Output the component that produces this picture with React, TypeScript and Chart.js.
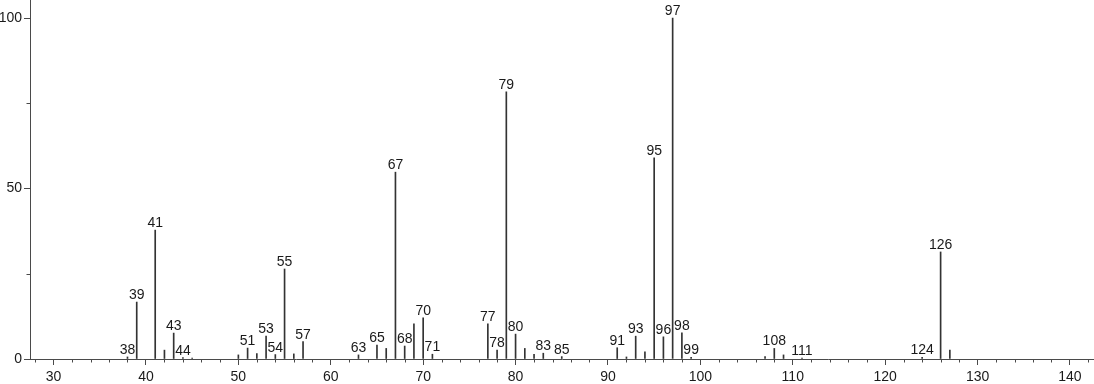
import React, { useEffect, useRef } from "react";
import { Chart, registerables } from "chart.js";

Chart.register(...registerables);

const masses = [38, 39, 41, 42, 43, 44, 45, 50, 51, 52, 53, 54, 55, 56, 57, 63, 65, 66, 67, 68, 69, 70, 71, 77, 78, 79, 80, 81, 82, 83, 85, 91, 92, 93, 94, 95, 96, 97, 98, 99, 107, 108, 109, 111, 124, 126, 127];
const intensities = [0.6, 16.7, 37.8, 2.6, 7.6, 0.4, 0.3, 1.2, 3.2, 1.6, 6.7, 1.3, 26.4, 1.5, 5.1, 1.2, 4.1, 3.1, 54.8, 3.8, 10.3, 12.1, 1.4, 10.3, 2.6, 78.4, 7.3, 3.1, 1.4, 1.7, 0.7, 3.3, 0.6, 6.7, 2.1, 59.0, 6.5, 100, 7.7, 0.5, 0.7, 3.1, 1.2, 0.3, 0.5, 31.4, 2.6];
const labeledMasses = [38, 39, 41, 43, 44, 51, 53, 54, 55, 57, 63, 65, 67, 68, 70, 71, 77, 78, 79, 80, 83, 85, 91, 93, 95, 96, 97, 98, 99, 108, 111, 124, 126];
const xTickLabels = [30, 40, 50, 60, 70, 80, 90, 100, 110, 120, 130, 140];
const yTickLabels = [0, 50, 100];

const FONT = "'Liberation Sans', Arial, Helvetica, sans-serif";
const FONT_SIZE = 14;
const AXIS = "#4a4a4a";
const TEXT = "#1a1a1a";

const peakLabelPlugin = {
  id: "peakLabels",
  afterDatasetsDraw(chart: any) {
    const meta = chart.getDatasetMeta(0);
    const ctx = chart.ctx;
    ctx.save();
    ctx.font = `${FONT_SIZE}px ${FONT}`;
    ctx.fillStyle = TEXT;
    ctx.textAlign = "center";
    ctx.textBaseline = "alphabetic";
    meta.data.forEach((el: any, i: number) => {
      if (labeledMasses.includes(masses[i])) {
        ctx.fillText(String(masses[i]), el.x, el.y - 3);
      }
    });
    ctx.restore();
  },
};

const minorTickPlugin = {
  id: "minorTicks",
  afterDraw(chart: any) {
    const ctx = chart.ctx;
    const xs = chart.scales.x;
    const ys = chart.scales.y;
    const bottom = chart.chartArea.bottom;
    const left = chart.chartArea.left;
    ctx.save();
    ctx.strokeStyle = AXIS;
    ctx.lineWidth = 1;
    ctx.beginPath();
    xs.ticks.forEach((t: any) => {
      if (t.value % 10 !== 0) {
        const px = Math.round(xs.getPixelForValue(t.value)) + 0.5;
        ctx.moveTo(px, bottom);
        ctx.lineTo(px, bottom + 3.5);
      }
    });
    ys.ticks.forEach((t: any) => {
      if (t.value % 50 !== 0) {
        const py = Math.round(ys.getPixelForValue(t.value)) + 0.5;
        ctx.moveTo(left - 3.5, py);
        ctx.lineTo(left, py);
      }
    });
    ctx.stroke();
    ctx.restore();
  },
};

export default function App() {
  const ref = useRef<HTMLCanvasElement>(null);
  useEffect(() => {
    if (!ref.current) return;
    const chart = new Chart(ref.current, {
      type: "bar",
      data: {
        datasets: [
          {
            data: masses.map((m, i) => ({ x: m, y: intensities[i] })),
            backgroundColor: "#333333",
            borderWidth: 0,
            barThickness: 1,
          },
        ],
      },
      options: {
        animation: false,
        responsive: false,
        maintainAspectRatio: false,
        layout: { padding: 0 },
        plugins: { legend: { display: false }, tooltip: { enabled: false } },
        scales: {
          x: {
            type: "linear",
            min: 27.45,
            max: 142.6,
            offset: false,
            grid: {
              offset: false,
              drawOnChartArea: false,
              drawTicks: true,
              tickLength: 6,
              tickColor: (c: any) => (c.tick && c.tick.value % 10 === 0 ? AXIS : "rgba(0,0,0,0)"),
            },
            border: { display: true, color: AXIS, width: 1 },
            ticks: {
              stepSize: 2,
              includeBounds: false,
              autoSkip: false,
              maxRotation: 0,
              padding: 4,
              color: TEXT,
              font: { family: FONT, size: FONT_SIZE },
              callback: (v: any) => (xTickLabels.includes(Number(v)) ? String(v) : ""),
            },
            afterFit: (s: any) => {
              s.height = 25;
              s.paddingLeft = 0;
              s.paddingRight = 0;
            },
          },
          y: {
            min: 0,
            max: 105.3,
            grid: {
              drawOnChartArea: false,
              drawTicks: true,
              tickLength: 6,
              tickColor: (c: any) => (c.tick && c.tick.value % 50 === 0 ? AXIS : "rgba(0,0,0,0)"),
            },
            border: { display: true, color: AXIS, width: 1 },
            ticks: {
              stepSize: 25,
              includeBounds: false,
              autoSkip: false,
              padding: 2,
              color: TEXT,
              font: { family: FONT, size: FONT_SIZE },
              callback: (v: any) => (yTickLabels.includes(Number(v)) ? String(v) : ""),
            },
            afterFit: (s: any) => {
              s.width = 30;
              s.paddingTop = 0;
              s.paddingBottom = 0;
            },
          },
        },
      },
      plugins: [peakLabelPlugin, minorTickPlugin],
    });
    return () => chart.destroy();
  }, []);
  return (
    <div style={{ position: "fixed", left: 0, top: 0, width: 1094, height: 384, background: "#fff" }}>
      <canvas ref={ref} width={1094} height={384} style={{ width: 1094, height: 384, display: "block" }} />
    </div>
  );
}
